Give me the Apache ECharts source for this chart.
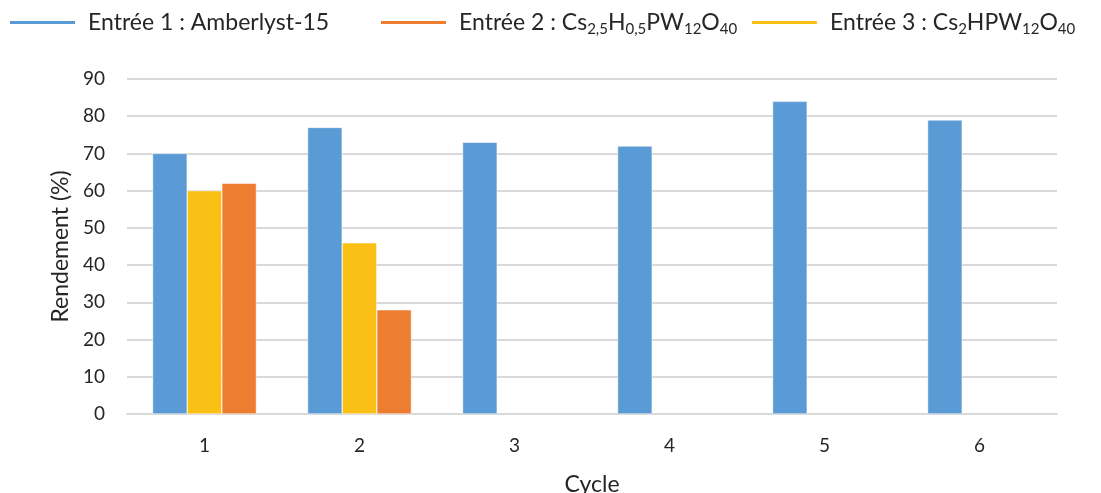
<!DOCTYPE html>
<html>
<head>
<meta charset="utf-8">
<script src="https://cdn.jsdelivr.net/npm/echarts@6/dist/echarts.min.js"></script>
<style>
  html, body { margin: 0; padding: 0; background: #fff; }
  #chart { width: 1101px; height: 493px; }
</style>
</head>
<body>
<div id="chart"></div>
<script>
var cycles = ['1', '2', '3', '4', '5', '6'];
var entree1 = [70, 77, 73, 72, 84, 79];      // Amberlyst-15
var entree2 = [62, 28, null, null, null, null]; // Cs2,5H0,5PW12O40
var entree3 = [60, 46, null, null, null, null]; // Cs2HPW12O40
var names = ['Entrée 1 : Amberlyst-15', 'Entrée 2 : Cs2,5H0,5PW12O40', 'Entrée 3 : Cs2HPW12O40'];

var txt = '#262626';
var font = 'Lato';

// legend label with subscripts
var richNames = {};
richNames[names[0]] = '{n|Entrée 1 : Amberlyst-15}';
richNames[names[1]] = '{n|Entrée 2 : Cs}{s|2,5}{n|H}{s|0,5}{n|PW}{s|12}{n|O}{s|40}';
richNames[names[2]] = '{n|Entrée 3 : Cs}{s|2}{n|HPW}{s|12}{n|O}{s|40}';

// one legend per entry so each sits where the original puts it
var legendLeft = [10, 381, 752];
var legends = names.map(function (nm, i) {
    return {
        data: [nm],
        left: legendLeft[i],
        top: 11,
        padding: 0,
        icon: 'rect',
        itemWidth: 65,
        itemHeight: 3,
        itemStyle: {borderWidth: 0},
        formatter: function (name) {
            return richNames[name];
        },
        textStyle: {
            color: txt,
            fontFamily: font,
            fontSize: 23,
            padding: [0, 0, 0, 8],
            rich: {
                n: {fontSize: 23, fontFamily: font, color: txt, lineHeight: 28},
                s: {fontSize: 15, fontFamily: font, color: txt, verticalAlign: 'bottom', lineHeight: 20}
            }
        }
    };
});

var chart = echarts.init(document.getElementById('chart'));
var option = {
    backgroundColor: '#fff',
    animation: false,
    legend: legends,
    grid: {left: 127, right: 44, top: 79, bottom: 79, outerBoundsMode: 'none'},
    xAxis: {
        type: 'category',
        data: cycles,
        name: 'Cycle',
        nameLocation: 'middle',
        nameGap: 59,
        nameTextStyle: {color: txt, fontFamily: font, fontSize: 23},
        axisTick: {show: false},
        axisLine: {lineStyle: {color: '#d9d9d9', width: 2}},
        axisLabel: {color: txt, fontFamily: font, fontSize: 19, margin: 22}
    },
    yAxis: {
        type: 'value',
        min: 0,
        max: 90,
        interval: 10,
        name: 'Rendement (%)',
        nameLocation: 'middle',
        nameGap: 52,
        nameTextStyle: {color: txt, fontFamily: font, fontSize: 23},
        axisLine: {show: false},
        axisTick: {show: false},
        axisLabel: {color: txt, fontFamily: font, fontSize: 19, margin: 22},
        splitLine: {lineStyle: {color: '#d9d9d9', width: 2}}
    },
    series: [
        {
            name: names[0], type: 'bar', data: entree1,
            barGap: '0%', barCategoryGap: '33%',
            itemStyle: {color: '#5b9bd5', borderColor: '#fff', borderWidth: 0.5}
        },
        {
            name: names[2], type: 'bar', data: entree3,
            barGap: '0%', barCategoryGap: '33%',
            itemStyle: {color: '#fbc015', borderColor: '#fff', borderWidth: 0.5}
        },
        {
            name: names[1], type: 'bar', data: entree2,
            barGap: '0%', barCategoryGap: '33%',
            itemStyle: {color: '#ed7d31', borderColor: '#fff', borderWidth: 0.5}
        }
    ]
};
chart.setOption(option);
</script>
</body>
</html>
